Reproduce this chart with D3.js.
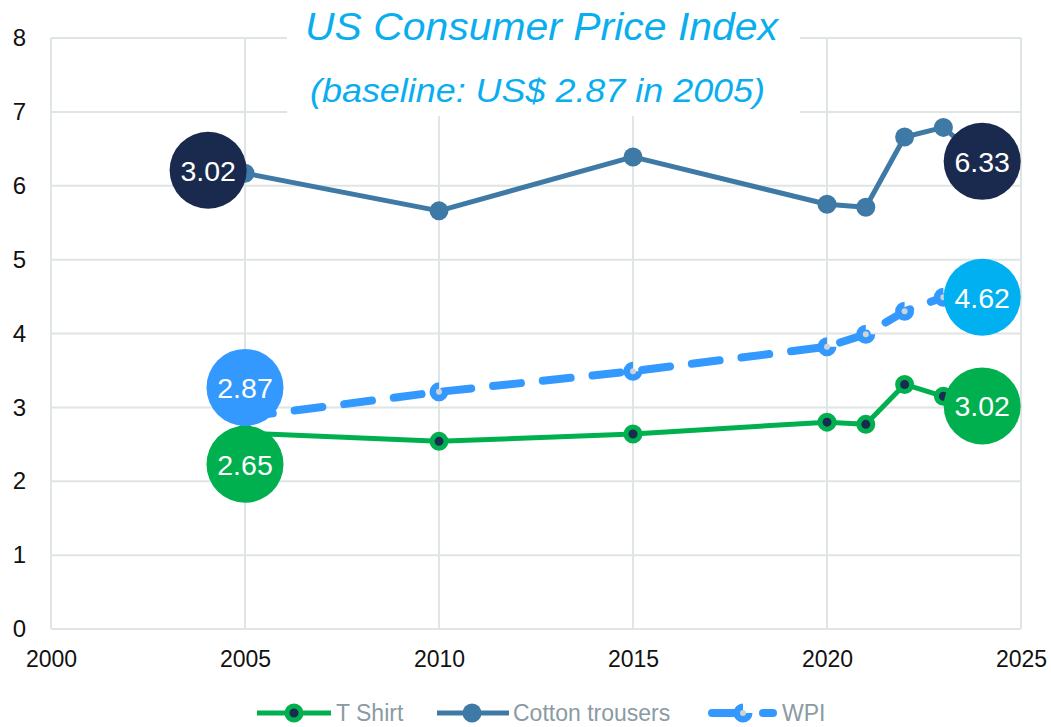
<!DOCTYPE html>
<html>
<head>
<meta charset="utf-8">
<script src="https://cdn.jsdelivr.net/npm/d3@7"></script>
<style>
  body { margin: 0; background: #fff; }
  svg { display: block; font-family: "Liberation Sans", Arial, sans-serif; }
</style>
</head>
<body>
<svg id="chart" width="1051" height="727"></svg>
<script>
// data
const years = [2005, 2010, 2015, 2020, 2021, 2022, 2023];
const tshirt = [2.65, 2.54, 2.64, 2.80, 2.77, 3.31, 3.15];
const trousers = [6.17, 5.66, 6.39, 5.75, 5.71, 6.66, 6.79];
const wpi = [2.87, 3.21, 3.49, 3.82, 3.99, 4.30, 4.49];
const xTicks = [2000, 2005, 2010, 2015, 2020, 2025];
const yTicks = [0, 1, 2, 3, 4, 5, 6, 7, 8];

// bubble callouts: [year, value] where the bubble sits, and its label
const tshirtBubbles = [[2005, 2.23, '2.65'], [2024, 3.02, '3.02']];
const trousersBubbles = [[2004.05, 6.21, '3.02'], [2024, 6.33, '6.33']];
const wpiBubbles = [[2005, 3.27, '2.87'], [2024, 4.49, '4.62']];

const svg = d3.select('#chart');
const margin = { top: 38, right: 30, bottom: 98, left: 51 };
const width = 1051 - margin.left - margin.right;
const height = 727 - margin.top - margin.bottom;

const x = d3.scaleLinear().domain([2000, 2025]).range([margin.left, margin.left + width]);
const y = d3.scaleLinear().domain([0, 8]).range([margin.top + height, margin.top]);

// grid
const grid = svg.append('g').attr('class', 'grid');
grid.selectAll('.hline').data(yTicks).enter().append('line')
    .attr('x1', x(2000)).attr('x2', x(2025))
    .attr('y1', d => y(d)).attr('y2', d => y(d))
    .attr('stroke', '#dfe4e4').attr('stroke-width', 2);
grid.selectAll('.vline').data(xTicks).enter().append('line')
    .attr('x1', d => x(d)).attr('x2', d => x(d))
    .attr('y1', y(0)).attr('y2', y(8))
    .attr('stroke', '#dfe4e4').attr('stroke-width', 2);

// axes (labels only)
const yAxis = d3.axisLeft(y).tickValues(yTicks).tickSize(0).tickPadding(0).tickFormat(d3.format('d'));
svg.append('g')
    .attr('transform', 'translate(' + 26 + ',0)')
    .call(yAxis)
    .call(g => g.select('.domain').remove())
    .selectAll('text')
    .attr('font-size', 24).attr('fill', '#111').attr('font-family', 'Liberation Sans, Arial, sans-serif');

const xAxis = d3.axisBottom(x).tickValues(xTicks).tickSize(0).tickPadding(0).tickFormat(d3.format('d'));
svg.append('g')
    .attr('transform', 'translate(0,' + (y(0) + 22) + ')')
    .call(xAxis)
    .call(g => g.select('.domain').remove())
    .selectAll('text')
    .attr('font-size', 23).attr('fill', '#111').attr('font-family', 'Liberation Sans, Arial, sans-serif');

// title box
svg.append('rect').attr('x', 287).attr('y', 0).attr('width', 513).attr('height', 116).attr('fill', '#fff');
svg.append('text')
    .attr('x', 305).attr('y', 40)
    .attr('font-size', 39).attr('font-style', 'italic')
    .attr('textLength', 473).attr('lengthAdjust', 'spacingAndGlyphs')
    .attr('fill', '#0aaeef')
    .text('US Consumer Price Index');
svg.append('text')
    .attr('x', 310).attr('y', 102)
    .attr('font-size', 33).attr('font-style', 'italic')
    .attr('textLength', 455).attr('lengthAdjust', 'spacingAndGlyphs')
    .attr('fill', '#0aaeef')
    .text('(baseline: US$ 2.87 in 2005)');

const line = d3.line().x(d => x(d[0])).y(d => y(d[1]));
const pairs = vals => years.map((yr, i) => [yr, vals[i]]);

// series lines, each runs on into its end bubble
const trousersPts = pairs(trousers).concat([trousersBubbles[1].slice(0, 2)]);
const tshirtPts = pairs(tshirt).concat([tshirtBubbles[1].slice(0, 2)]);
const wpiPts = pairs(wpi).concat([wpiBubbles[1].slice(0, 2)]);

svg.append('path').datum(trousersPts).attr('d', line)
    .attr('fill', 'none').attr('stroke', '#3f7aa6').attr('stroke-width', 5).attr('stroke-linejoin', 'round');
svg.append('path').datum(tshirtPts).attr('d', line)
    .attr('fill', 'none').attr('stroke', '#00b04f').attr('stroke-width', 5).attr('stroke-linejoin', 'round');
svg.append('path').datum(wpiPts).attr('d', line)
    .attr('fill', 'none').attr('stroke', '#3399ff').attr('stroke-width', 8)
    .attr('stroke-dasharray', '28,22').attr('stroke-linecap', 'round');

// markers
svg.selectAll('.m-trousers').data(pairs(trousers)).enter().append('circle')
    .attr('cx', d => x(d[0])).attr('cy', d => y(d[1])).attr('r', 9.5)
    .attr('fill', '#3f7aa6');
svg.selectAll('.m-tshirt').data(pairs(tshirt)).enter().append('circle')
    .attr('cx', d => x(d[0])).attr('cy', d => y(d[1])).attr('r', 7)
    .attr('fill', '#1a2a50').attr('stroke', '#00b04f').attr('stroke-width', 5);

const wedge = d3.arc().innerRadius(0).outerRadius(9.5)
    .startAngle(Math.PI * 0.5).endAngle(Math.PI * 2);
const wpiM = svg.selectAll('.m-wpi').data(pairs(wpi)).enter().append('g')
    .attr('transform', d => 'translate(' + x(d[0]) + ',' + y(d[1]) + ')');
wpiM.append('path').attr('d', wedge).attr('fill', '#3399ff');
wpiM.append('circle').attr('r', 3).attr('fill', '#cfd3d6');

// bubbles
function bubbles(data, colors) {
    const g = svg.append('g');
    const b = g.selectAll('g').data(data).enter().append('g')
        .attr('transform', d => 'translate(' + x(d[0]) + ',' + y(d[1]) + ')');
    b.append('circle').attr('r', 38.5).attr('fill', (d, i) => colors[i]);
    b.append('text').attr('text-anchor', 'middle').attr('dy', '0.36em')
        .attr('font-size', 28.5).attr('fill', '#fff').text(d => d[2]);
}
bubbles(trousersBubbles, ['#1a2a4f', '#1a2a4f']);
bubbles(wpiBubbles, ['#3399ff', '#00b0f0']);
bubbles(tshirtBubbles, ['#00b04f', '#00b04f']);

// legend
const legendItems = ['T Shirt', 'Cotton trousers', 'WPI'];
const ly = 713;
const lg = svg.append('g');
// T Shirt
lg.append('line').attr('x1', 257).attr('x2', 331).attr('y1', ly).attr('y2', ly)
    .attr('stroke', '#00b04f').attr('stroke-width', 5);
lg.append('circle').attr('cx', 294).attr('cy', ly).attr('r', 7)
    .attr('fill', '#1a2a50').attr('stroke', '#00b04f').attr('stroke-width', 5);
// Cotton trousers
lg.append('line').attr('x1', 437).attr('x2', 509).attr('y1', ly).attr('y2', ly)
    .attr('stroke', '#3f7aa6').attr('stroke-width', 5);
lg.append('circle').attr('cx', 472).attr('cy', ly).attr('r', 9.5).attr('fill', '#3f7aa6');
// WPI
lg.append('line').attr('x1', 712).attr('x2', 740).attr('y1', ly).attr('y2', ly)
    .attr('stroke', '#3399ff').attr('stroke-width', 8).attr('stroke-linecap', 'round');
lg.append('line').attr('x1', 763).attr('x2', 773).attr('y1', ly).attr('y2', ly)
    .attr('stroke', '#3399ff').attr('stroke-width', 8).attr('stroke-linecap', 'round');
lg.append('path').attr('d', wedge).attr('transform', 'translate(743,' + ly + ')').attr('fill', '#3399ff');
lg.append('circle').attr('cx', 743).attr('cy', ly).attr('r', 3).attr('fill', '#cfd3d6');

lg.selectAll('text').data(legendItems).enter().append('text')
    .attr('x', (d, i) => [336, 513, 782][i]).attr('y', ly).attr('dy', '0.36em')
    .attr('font-size', 23).attr('fill', '#8a9ba3')
    .text(d => d);
</script>
</body>
</html>
